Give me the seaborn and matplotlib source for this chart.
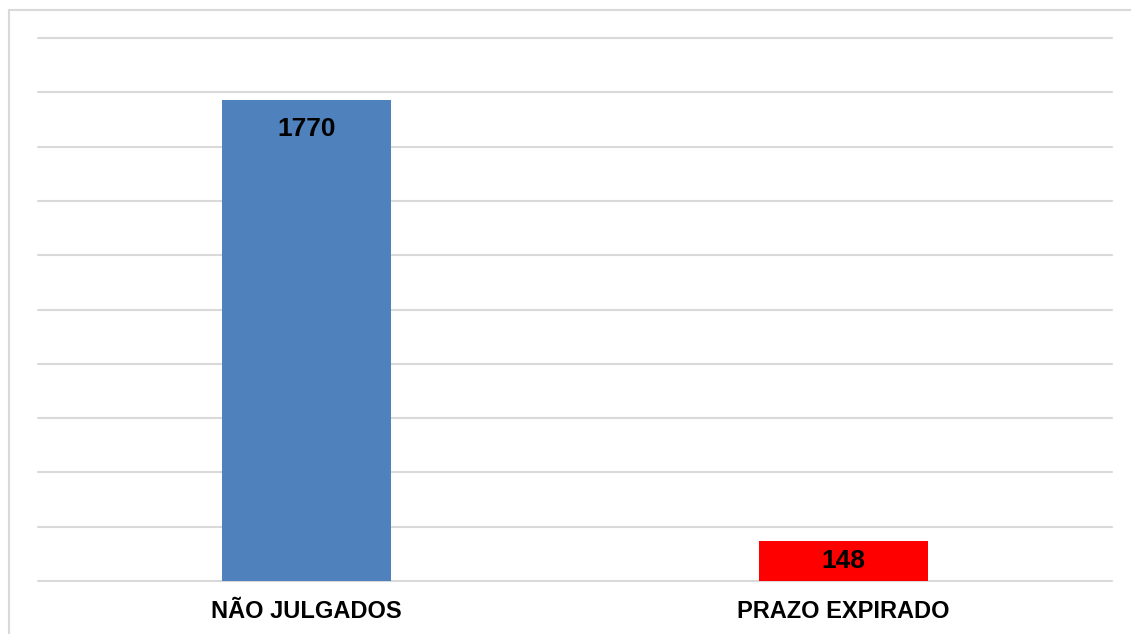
import matplotlib
matplotlib.use("Agg")
import matplotlib.pyplot as plt
import seaborn as sns
import pandas as pd
from matplotlib.patches import Rectangle

# data
categories = ["NÃO JULGADOS", "PRAZO EXPIRADO"]
values = [1770, 148]
bar_colors = ["#4F81BD", "#FF0000"]

df = pd.DataFrame({"categoria": categories, "total": values})

sns.set_theme(style="white")
plt.rcParams["font.family"] = ["Liberation Sans", "DejaVu Sans"]

fig = plt.figure(figsize=(11.31, 6.34), dpi=100)
ax = fig.add_axes([38 / 1131, 1 - 581 / 634, (1112 - 38) / 1131, (581 - 38) / 634])

sns.barplot(data=df, x="categoria", y="total", hue="categoria",
            palette=bar_colors, saturation=1, width=0.313, legend=False,
            ax=ax, zorder=3)
for p in ax.patches:
    p.set_linewidth(0)

ax.set_ylim(0, 2000)
ax.set_xlim(-0.5, 1.5)
ax.set_yticks(range(0, 2001, 200))
ax.yaxis.grid(True, color="#D9D9D9", linewidth=1.5)
for gl in ax.get_ygridlines():
    gl.set_clip_on(False)
ax.set_axisbelow(True)
ax.tick_params(axis="y", left=False, labelleft=False)
ax.tick_params(axis="x", bottom=False, pad=8)
for lbl in ax.get_xticklabels():
    lbl.set_fontsize(17)
    lbl.set_fontweight("bold")
    lbl.set_color("black")
ax.set_xlabel("")
ax.set_ylabel("")
for s in ax.spines.values():
    s.set_visible(False)

# value labels inside the bars
for i, v in enumerate(values):
    ax.text(i, max(v - 105, v / 2), str(v), ha="center", va="center",
            fontsize=19, fontweight="bold", color="black", zorder=4)

# outer chart border (right/bottom fall outside the image)
fig.patches.append(Rectangle((8.5 / 1131, -0.1), 1.2, 1 - 9.5 / 634 + 0.1,
                             transform=fig.transFigure, fill=False,
                             edgecolor="#D9D9D9", linewidth=1.5))

fig.savefig("out.png", dpi=100)
